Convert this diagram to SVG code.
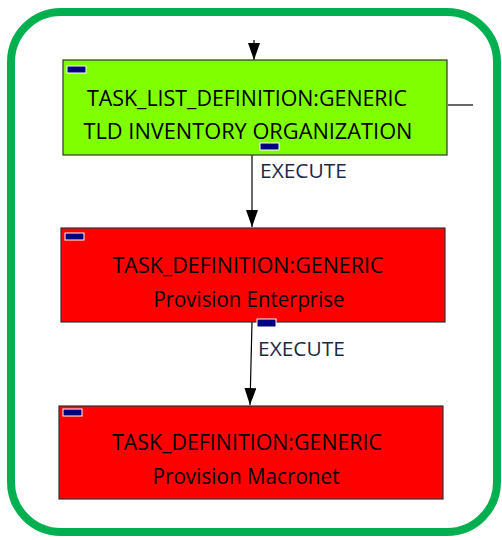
<svg xmlns="http://www.w3.org/2000/svg" width="502" height="540" viewBox="0 0 502 540">
  <style>
    .frame { fill: #ffffff; stroke: #00b050; stroke-width: 8; }
    .node { stroke: #333333; stroke-width: 1.2; }
    .list { fill: #80ff00; }
    .task { fill: #ff0000; }
    .tab { fill: #000080; stroke: #ffffff; stroke-width: 1; }
    .label { font-family: "Open Sans", "Noto Sans", sans-serif; font-size: 21px; fill: #000000; text-anchor: middle; }
    .edge-label { font-family: "Open Sans", "Noto Sans", sans-serif; font-size: 20px; fill: #1b2a48; }
    .edge { stroke: #000000; stroke-width: 1.2; fill: none; }
  </style>
  <defs>
    <!-- filled arrowhead, tip at the end of the line -->
    <marker id="arrow" viewBox="0 0 17 12" refX="17" refY="6" markerWidth="17" markerHeight="12" markerUnits="userSpaceOnUse" orient="auto">
      <path d="M0,0 L17,6 L0,12 Z" fill="#000000"/>
    </marker>
  </defs>

  <!-- outer frame -->
  <rect class="frame" x="11" y="12" width="486" height="520" rx="50" ry="50"/>

  <!-- connectors -->
  <g id="connectors">
    <line class="edge" x1="254" y1="40" x2="254" y2="60" marker-end="url(#arrow)"/>
    <line class="edge" x1="448" y1="105" x2="473" y2="105"/>
    <line class="edge" x1="252" y1="155" x2="252" y2="227" marker-end="url(#arrow)"/>
    <text class="edge-label" x="260" y="178" textLength="87" lengthAdjust="spacingAndGlyphs">EXECUTE</text>
    <line class="edge" x1="252" y1="322" x2="250" y2="405" marker-end="url(#arrow)"/>
    <text class="edge-label" x="258" y="356" textLength="87" lengthAdjust="spacingAndGlyphs">EXECUTE</text>
  </g>

  <!-- task list node -->
  <g id="tld-inventory-organization">
    <rect class="node list" x="63" y="60" width="384" height="95"/>
    <rect class="tab" x="67" y="66" width="19" height="7"/>
    <text class="label" x="247" y="106" textLength="320" lengthAdjust="spacingAndGlyphs">TASK_LIST_DEFINITION:GENERIC</text>
    <text class="label" x="248" y="139" textLength="329" lengthAdjust="spacingAndGlyphs">TLD INVENTORY ORGANIZATION</text>
    <rect class="tab" x="260" y="143" width="19" height="7"/>
  </g>

  <!-- provision enterprise node -->
  <g id="provision-enterprise">
    <rect class="node task" x="61" y="228" width="384" height="94"/>
    <rect class="tab" x="65" y="233" width="19" height="7"/>
    <text class="label" x="248" y="273" textLength="271" lengthAdjust="spacingAndGlyphs">TASK_DEFINITION:GENERIC</text>
    <text class="label" x="249" y="307" textLength="191" lengthAdjust="spacingAndGlyphs">Provision Enterprise</text>
    <rect class="tab" x="257" y="319" width="19" height="8"/>
  </g>

  <!-- provision macronet node -->
  <g id="provision-macronet">
    <rect class="node task" x="59" y="406" width="384" height="93"/>
    <rect class="tab" x="63" y="409" width="19" height="7"/>
    <text class="label" x="247" y="450" textLength="270" lengthAdjust="spacingAndGlyphs">TASK_DEFINITION:GENERIC</text>
    <text class="label" x="246" y="484" textLength="187" lengthAdjust="spacingAndGlyphs">Provision Macronet</text>
  </g>
</svg>
